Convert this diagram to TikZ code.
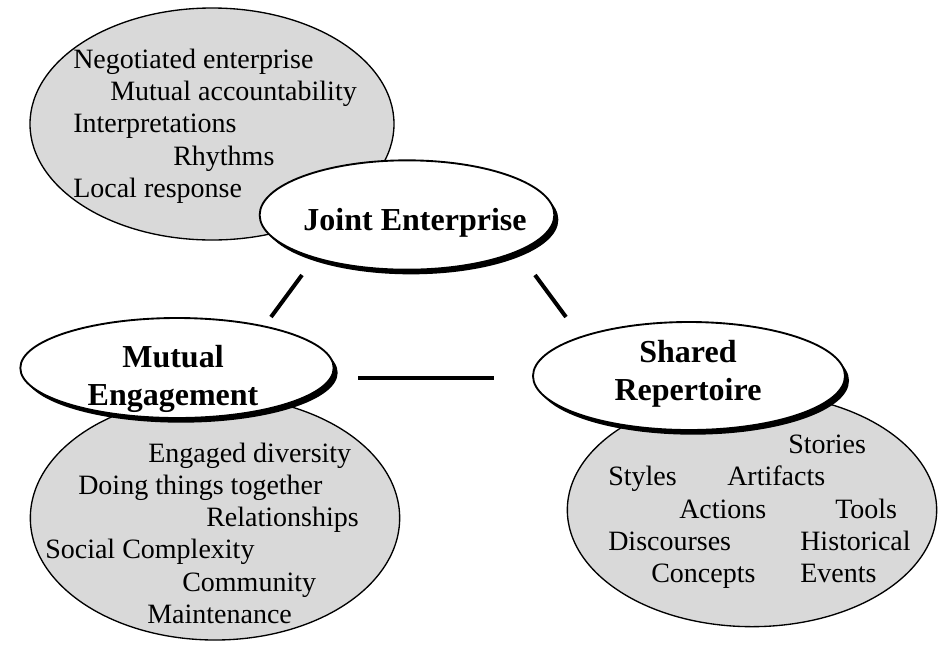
\documentclass[tikz,border=0pt]{standalone}
\usepackage{fontspec}
\setmainfont{Liberation Serif}
\usetikzlibrary{shapes.geometric,shadows}

\begin{document}
\begin{tikzpicture}[x=0.75pt,y=-0.75pt,
    pool/.style={ellipse,draw,line width=1pt,fill=gray!30,inner sep=0pt},
    hub/.style={ellipse,draw,line width=1.4pt,fill=white,inner sep=0pt,
        drop shadow={shadow xshift=3pt,shadow yshift=-3.5pt,fill=black,opacity=1}},
    item/.style={anchor=base west,inner sep=0pt,font=\fontsize{21}{24}\selectfont},
    title/.style={anchor=base,inner sep=0pt,align=center,font=\fontsize{24}{28}\selectfont\bfseries},
    link/.style={line width=3pt}]
    \useasboundingbox (0,0) rectangle (938,647);
    % joint enterprise
    \node[pool,minimum width=273pt,minimum height=174pt] (jepool) at (212,124) {};
    \node[hub,minimum width=221pt,minimum height=82pt] (je) at (407,215) {};
    \node[title] (jetitle) at (415,230) {Joint Enterprise};
    \node[item] (je1) at (73,68) {Negotiated enterprise};
    \node[item] (je2) at (110,100) {Mutual accountability};
    \node[item] (je3) at (73,132) {Interpretations};
    \node[item] (je4) at (173,165) {Rhythms};
    \node[item] (je5) at (73,197) {Local response};
    % mutual engagement
    \node[pool,minimum width=277pt,minimum height=183pt] (mepool) at (215,518) {};
    \node[hub,minimum width=235pt,minimum height=75pt] (me) at (177,368) {};
    \node[title] (metitle) at (173,405) {Mutual\\Engagement};
    \node[item] (me1) at (148,462) {Engaged diversity};
    \node[item] (me2) at (78,494) {Doing things together};
    \node[item] (me3) at (206,526) {Relationships};
    \node[item] (me4) at (45,558) {Social Complexity};
    \node[item] (me5) at (182,591) {Community};
    \node[item] (me6) at (147,623) {Maintenance};
    % shared repertoire
    \node[pool,minimum width=277pt,minimum height=175pt] (srpool) at (752,510) {};
    \node[hub,minimum width=234pt,minimum height=81pt] (sr) at (689,376) {};
    \node[title] (srtitle) at (688,400) {Shared\\Repertoire};
    \node[item] (sr1) at (788,453) {Stories};
    \node[item] (sr2) at (608,485) {Styles};
    \node[item] (sr3) at (727,485) {Artifacts};
    \node[item] (sr4) at (679,518) {Actions};
    \node[item] (sr5) at (835,518) {Tools};
    \node[item] (sr6) at (608,550) {Discourses};
    \node[item] (sr7) at (800,550) {Historical};
    \node[item] (sr8) at (651,582) {Concepts};
    \node[item] (sr9) at (800,582) {Events};
    % links between the three
    \coordinate (je-me) at (302,275);
    \coordinate (me-je) at (271,317);
    \coordinate (je-sr) at (535,275);
    \coordinate (sr-je) at (566,317);
    \coordinate (me-sr) at (358,378);
    \coordinate (sr-me) at (494,378);
    \draw[link] (je-me) -- (me-je);
    \draw[link] (je-sr) -- (sr-je);
    \draw[link] (me-sr) -- (sr-me);
\end{tikzpicture}
\end{document}
